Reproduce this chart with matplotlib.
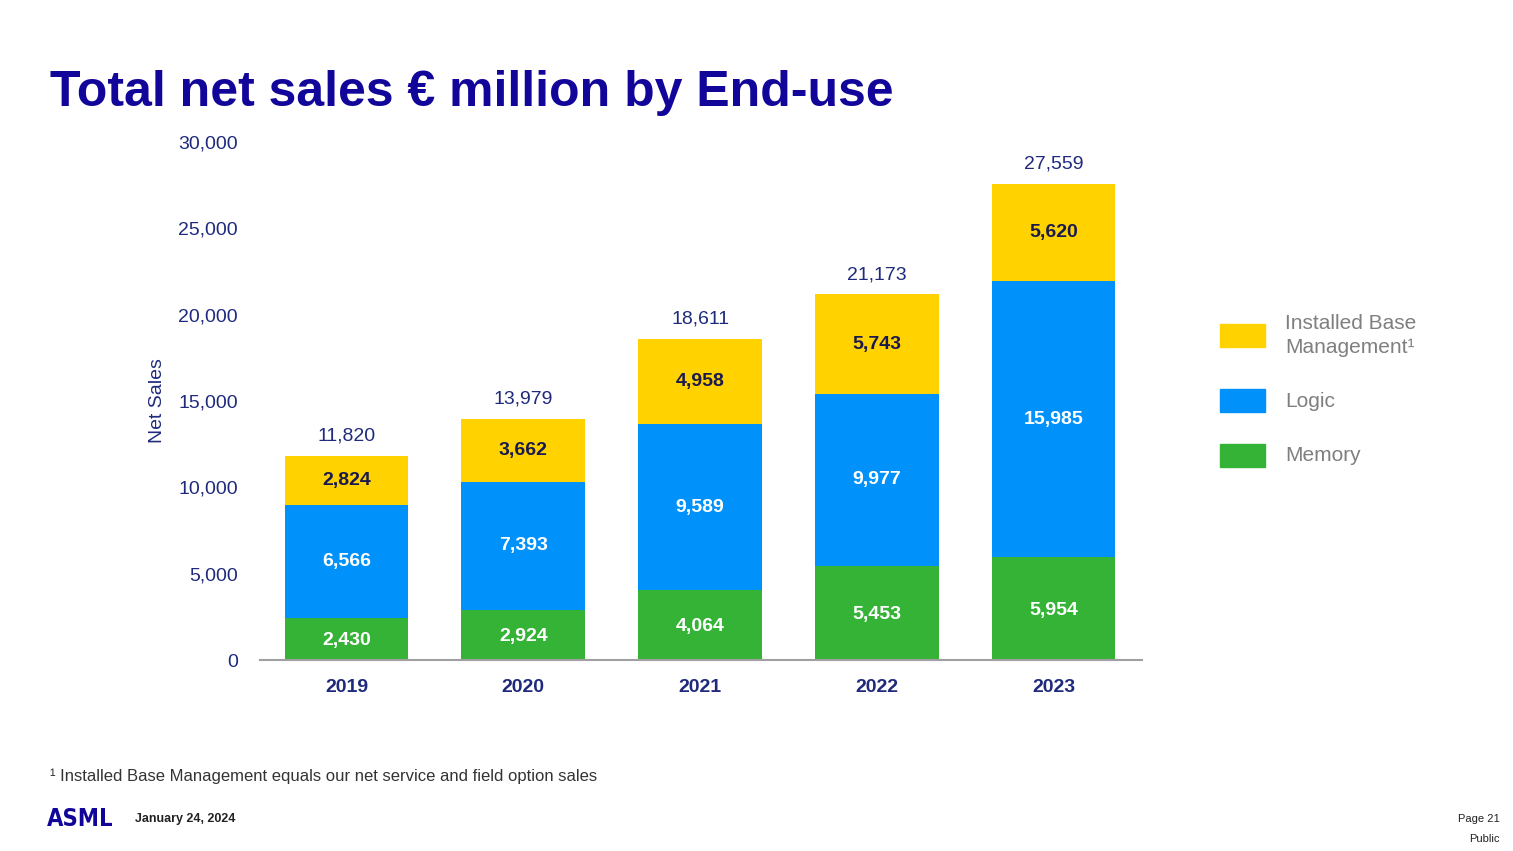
import matplotlib.pyplot as plt
import numpy as np

# data
years = ['2019', '2020', '2021', '2022', '2023']
memory = [2430, 2924, 4064, 5453, 5954]
logic = [6566, 7393, 9589, 9977, 15985]
ibm = [2824, 3662, 4958, 5743, 5620]
totals = [11820, 13979, 18611, 21173, 27559]
yticks = [0, 5000, 10000, 15000, 20000, 25000, 30000]

navy = '#1f2a7c'
title_blue = '#12069a'
c_ibm = '#ffd200'
c_logic = '#0091fa'
c_mem = '#35b336'

plt.rcParams['font.family'] = ['Liberation Sans', 'DejaVu Sans']

fig = plt.figure(figsize=(15.13, 8.51), dpi=100, facecolor='w')
ax = fig.add_axes([0.1718, 0.2244, 0.583, 0.6087])

x = np.arange(len(years))
w = 0.70
mem = np.array(memory)
log = np.array(logic)
ib = np.array(ibm)
ax.bar(x, mem, w, color=c_mem)
ax.bar(x, log, w, bottom=mem, color=c_logic)
ax.bar(x, ib, w, bottom=mem + log, color=c_ibm)

# segment labels
for i in range(len(years)):
    ax.text(x[i], mem[i] / 2 - 100, f'{memory[i]:,}', ha='center', va='center',
            color='white', fontsize=14, fontweight='bold')
    ax.text(x[i], mem[i] + log[i] / 2, f'{logic[i]:,}', ha='center', va='center',
            color='white', fontsize=14, fontweight='bold')
    ax.text(x[i], mem[i] + log[i] + ib[i] / 2, f'{ibm[i]:,}', ha='center',
            va='center', color='#1a1a4e', fontsize=14, fontweight='bold')
    ax.text(x[i], totals[i] + 650, f'{totals[i]:,}', ha='center', va='bottom',
            color=navy, fontsize=14)

ax.set_xlim(-0.49, 4.5)
ax.set_ylim(0, 30000)
ax.set_yticks(yticks)
ax.set_yticklabels([f'{v:,}' for v in yticks], color=navy, fontsize=14)
ax.set_xticks(x)
ax.set_xticklabels(years, color=navy, fontsize=14, fontweight='bold')
ax.tick_params(axis='both', length=0)
ax.tick_params(axis='y', pad=16)
ax.tick_params(axis='x', pad=14)
for s in ['top', 'right', 'left']:
    ax.spines[s].set_visible(False)
ax.spines['bottom'].set_color('#a0a0a0')
ax.spines['bottom'].set_linewidth(1.5)
ax.set_ylabel('Net Sales', color=navy, fontsize=14, labelpad=9)

# legend drawn by hand to match slide
legend_items = [(c_ibm, 'Installed Base\nManagement¹', 0.6055),
                (c_logic, 'Logic', 0.5285),
                (c_mem, 'Memory', 0.4645)]
for col, lab, yy in legend_items:
    fig.patches.append(plt.Rectangle((1220 / 1513, yy - 0.013), 45 / 1513, 0.027,
                                     transform=fig.transFigure, color=col))
    fig.text(1285 / 1513, yy, lab, color='#7f7f7f', fontsize=15, va='center',
             linespacing=1.3)

fig.text(50 / 1513, 1 - 93 / 851, 'Total net sales € million by End-use',
         color=title_blue, fontsize=36, fontweight='bold', va='center')
fig.text(50 / 1513, 1 - 776 / 851,
         '¹ Installed Base Management equals our net service and field option sales',
         color='#333333', fontsize=12, va='center')
fig.text(47 / 1513, 1 - 819 / 851, 'ASML', color=title_blue, fontsize=17,
         fontweight='heavy', va='center', family='DejaVu Sans', stretch='condensed')
fig.text(135 / 1513, 1 - 819 / 851, 'January 24, 2024', color='#222222',
         fontsize=9, fontweight='bold', va='center')
fig.text(1500 / 1513, 1 - 819 / 851, 'Page 21', color='#222222', fontsize=8,
         ha='right', va='center')
fig.text(1500 / 1513, 1 - 839 / 851, 'Public', color='#222222', fontsize=8,
         ha='right', va='center')

fig.savefig('out.png', dpi=100, facecolor='w')
